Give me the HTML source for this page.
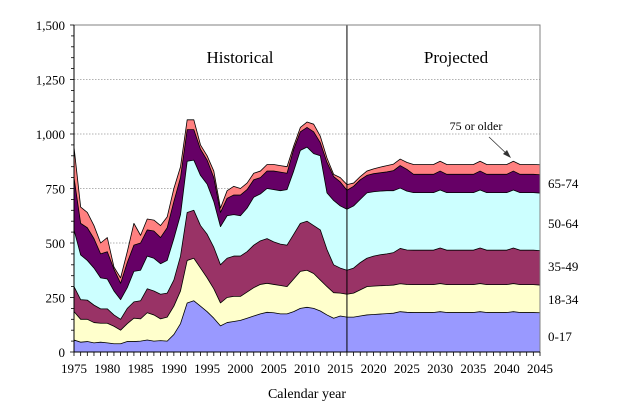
<!DOCTYPE html>
<html><head><meta charset="utf-8"><style>
html,body{margin:0;padding:0;background:#fff;}
svg{display:block;font-family:"Liberation Serif",serif;}
</style></head><body>
<svg id="s" width="624" height="413" xmlns="http://www.w3.org/2000/svg"></svg>
<script>
var L=74,R=540,T=25,B=352;
function X(y){return L+(y-1975)*(R-L)/70;}
function Y(v){return B-v*(B-T)/1500;}
var d={
1975:[55,185,300,560,800,940],1976:[45,150,240,445,590,665],1977:[48,150,238,420,570,640],
1978:[42,135,215,385,520,580],1979:[45,132,198,340,450,500],1980:[42,132,198,335,460,525],
1981:[38,118,170,280,380,390],1982:[38,100,150,240,315,340],1983:[48,130,200,295,410,460],
1984:[48,155,230,370,490,590],1985:[50,152,235,375,500,535],1986:[55,180,290,440,560,610],
1987:[50,170,280,430,555,605],1988:[52,152,265,405,525,580],1989:[50,160,270,420,570,620],
1990:[80,210,330,520,690,750],1991:[130,280,440,630,800,850],1992:[225,420,640,875,1020,1065],
1993:[235,430,650,880,1020,1065],1994:[210,385,580,810,930,950],1995:[185,340,540,770,880,900],
1996:[155,290,480,690,800,830],1997:[120,225,400,575,640,660],1998:[135,250,430,625,705,740],
1999:[140,255,440,630,720,760],2000:[145,255,440,625,720,750],2001:[155,275,460,660,745,775],
2002:[165,295,490,710,790,820],2003:[175,310,510,725,800,830],2004:[182,315,520,750,830,860],
2005:[180,310,505,745,830,860],2006:[175,305,495,740,825,855],2007:[175,300,490,745,820,850],
2008:[185,335,540,830,930,945],2009:[200,370,590,925,1010,1030],2010:[205,375,600,940,1030,1055],
2011:[200,360,580,910,1010,1045],2012:[188,330,560,900,960,990],2013:[170,300,470,730,870,890],
2014:[155,272,400,695,805,815],2015:[165,270,385,670,780,800],2016:[160,265,375,655,742,768],
2017:[160,270,385,670,760,775],2018:[165,285,410,700,790,805],2019:[170,300,430,730,810,830],
2020:[172,302,440,735,818,840],2021:[174,304,446,738,822,848],2022:[176,305,450,740,826,855],
2023:[178,307,456,740,832,862],2024:[185,313,475,752,855,885],2025:[182,310,468,738,838,870]};
var bump={2030:1,2036:1,2041:1};
for(var y=2026;y<=2045;y++){var b=bump[y]?1:0;d[y]=[181+b*4,309+b*5,467+b*10,731+b*12,815+b*15,860+b*15];}
d[2045]=[180,307,465,729,813,859];
var cols=["#9999ff","#ffffcc","#993366","#ccffff","#660066","#ff8080"];
var s="";
// gridlines
for(var v=250;v<=1250;v+=250)s+='<line x1="'+L+'" x2="'+R+'" y1="'+Y(v)+'" y2="'+Y(v)+'" stroke="#999" stroke-width="0.8" stroke-dasharray="1.5,1.5"/>';
for(var k=5;k>=0;k--){
 var p="M"+X(1975)+","+B;
 for(var y=1975;y<=2045;y++)p+=" L"+X(y).toFixed(2)+","+Y(d[y][k]).toFixed(2);
 p+=" L"+X(2045)+","+B+" Z";
 s+='<path d="'+p+'" fill="'+cols[k]+'" stroke="#000" stroke-width="0.8" stroke-linejoin="round"/>';
}
s+='<line x1="'+X(2016)+'" x2="'+X(2016)+'" y1="'+T+'" y2="'+B+'" stroke="#000" stroke-width="1"/>';
s+='<rect x="'+L+'" y="'+T+'" width="'+(R-L)+'" height="'+(B-T)+'" fill="none" stroke="#808080" stroke-width="1"/>';
s+='<line x1="'+L+'" x2="'+L+'" y1="'+T+'" y2="'+B+'" stroke="#000" stroke-width="1"/>';
s+='<line x1="'+L+'" x2="'+R+'" y1="'+B+'" y2="'+B+'" stroke="#000" stroke-width="1"/>';
for(var v=0;v<=1500;v+=50){var w=(v%250==0)?4:3;s+='<line x1="'+(L-w)+'" x2="'+L+'" y1="'+Y(v)+'" y2="'+Y(v)+'" stroke="#000" stroke-width="0.8"/>';}
for(var v=0;v<=1500;v+=250){s+='<text x="'+(L-9)+'" y="'+(Y(v)+5)+'" font-size="13" text-anchor="end">'+(v>=1000?v.toString().replace(/(\d)(\d{3})$/,"$1,$2"):v)+'</text>';}
for(var y=1975;y<=2045;y++){s+='<line x1="'+X(y)+'" x2="'+X(y)+'" y1="'+B+'" y2="'+(B+4)+'" stroke="#000" stroke-width="0.8"/>';}
for(var y=1975;y<=2045;y+=5){s+='<text x="'+X(y)+'" y="'+(B+21)+'" font-size="13" text-anchor="middle">'+y+'</text>';}
s+='<text x="307" y="398" font-size="14" text-anchor="middle">Calendar year</text>';
s+='<text x="240" y="63" font-size="17" text-anchor="middle">Historical</text>';
s+='<text x="456" y="63" font-size="17" text-anchor="middle">Projected</text>';
s+='<text x="476" y="130" font-size="12" text-anchor="middle">75 or older</text>';
s+='<line x1="489" y1="137" x2="509" y2="156" stroke="#333" stroke-width="0.8"/><path d="M511,158 L503,154 L507,150 Z" fill="#333"/>';
var lab=[["65-74",188],["50-64",228],["35-49",271],["18-34",304],["0-17",341]];
lab.forEach(function(a){s+='<text x="548" y="'+a[1]+'" font-size="13">'+a[0]+'</text>';});
document.getElementById("s").innerHTML=s;
</script>
</body></html>
